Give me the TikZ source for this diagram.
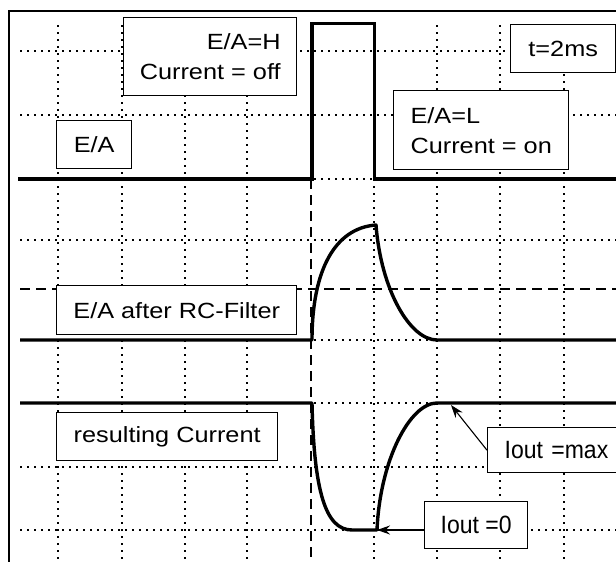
\documentclass[tikz,border=0pt]{standalone}
\usepackage{fontspec}
\setmainfont{Liberation Sans}
\newfontfamily\lblfont[FakeStretch=1.15]{Liberation Sans}
\newfontfamily\ioutfont[FakeStretch=0.92]{Liberation Sans}
\usetikzlibrary{arrows.meta}

\tikzset{
  gridline/.style={line width=2.4pt, dash pattern=on 2.4pt off 4.6pt},
  markline/.style={line width=2.8pt, dash pattern=on 10pt off 6pt},
  signal/.style={line width=3.4pt},
  labelbox/.style={draw, fill=white, line width=1.4pt, inner sep=0pt,
    font=\lblfont\fontsize{22}{30}\selectfont},
  ioutbox/.style={labelbox, font=\ioutfont\fontsize{25}{30}\selectfont},
  pointer/.style={line width=1.1pt, -{Stealth[length=13pt,width=9pt]}},
}

\begin{document}
\begin{tikzpicture}[x=1pt,y=-1pt]
  \useasboundingbox (0,0) rectangle (616,562);
  \clip (0,0) rectangle (616,562);

  % outer frame
  \draw[line width=1.3pt] (9,11) rectangle (640,590);

  % dotted grid
  \foreach \gy in {51,115,179,240,340,403,467,530}
    \draw[gridline] (20,\gy) -- (616,\gy);
  \foreach \gx in {58,122,185,247,374,437,500,564}
    \draw[gridline] (\gx,25) -- (\gx,562);

  % switching instant and filter threshold
  \draw[markline] (311,179) -- (311,562);
  \draw[markline] (20,289) -- (616,289);

  % E/A pulse
  \draw[signal, line join=miter] (18,179) -- (312,179) -- (312,23.5)
    -- (374.5,23.5) -- (374.5,179) -- (616,179);

  % E/A after the RC filter
  \draw[signal, line join=round] (20,340) -- (312,340)
    .. controls (312,270) and (335,228) .. (376,225)
    .. controls (381,290) and (410,340) .. (437,340) -- (616,340);

  % resulting current
  \draw[signal, line join=round] (20,403) -- (312,403)
    .. controls (314,490) and (325,530) .. (352,530) -- (377,530)
    .. controls (380,460) and (410,403) .. (437,403) -- (616,403);

  \coordinate (cmax) at (451,405);
  \coordinate (czero) at (377,530);

  % labels
  \node[labelbox, anchor=north west, minimum width=173pt, minimum height=78pt,
        align=right] (eah) at (123,17) {E/A=H\\Current = off};
  \node[labelbox, anchor=north west, minimum width=75pt, minimum height=48pt]
        (ea) at (56,120) {E/A};
  \node[labelbox, anchor=north west, minimum width=105pt, minimum height=48pt]
        (tms) at (510,24) {t=2ms};
  \node[labelbox, anchor=north west, minimum width=175pt, minimum height=79pt,
        align=left] (eal) at (393,90) {E/A=L\\Current = on};
  \node[labelbox, anchor=north west, minimum width=240pt, minimum height=49pt]
        (rc) at (56,285) {E/A after RC-Filter};
  \node[labelbox, anchor=north west, minimum width=221pt, minimum height=48pt]
        (res) at (56,412) {resulting Current};
  \node[ioutbox, anchor=north west, minimum width=150pt, minimum height=45pt,
        text width=116pt, align=left] (imax) at (487,427) {Iout =max};
  \node[ioutbox, anchor=north west, minimum width=103pt, minimum height=47pt]
        (izero) at (424,501) {Iout =0};

  % pointers
  \draw[pointer] (imax.west) -- (cmax);
  \draw[pointer] (czero -| izero.west) -- (czero);
\end{tikzpicture}
\end{document}
